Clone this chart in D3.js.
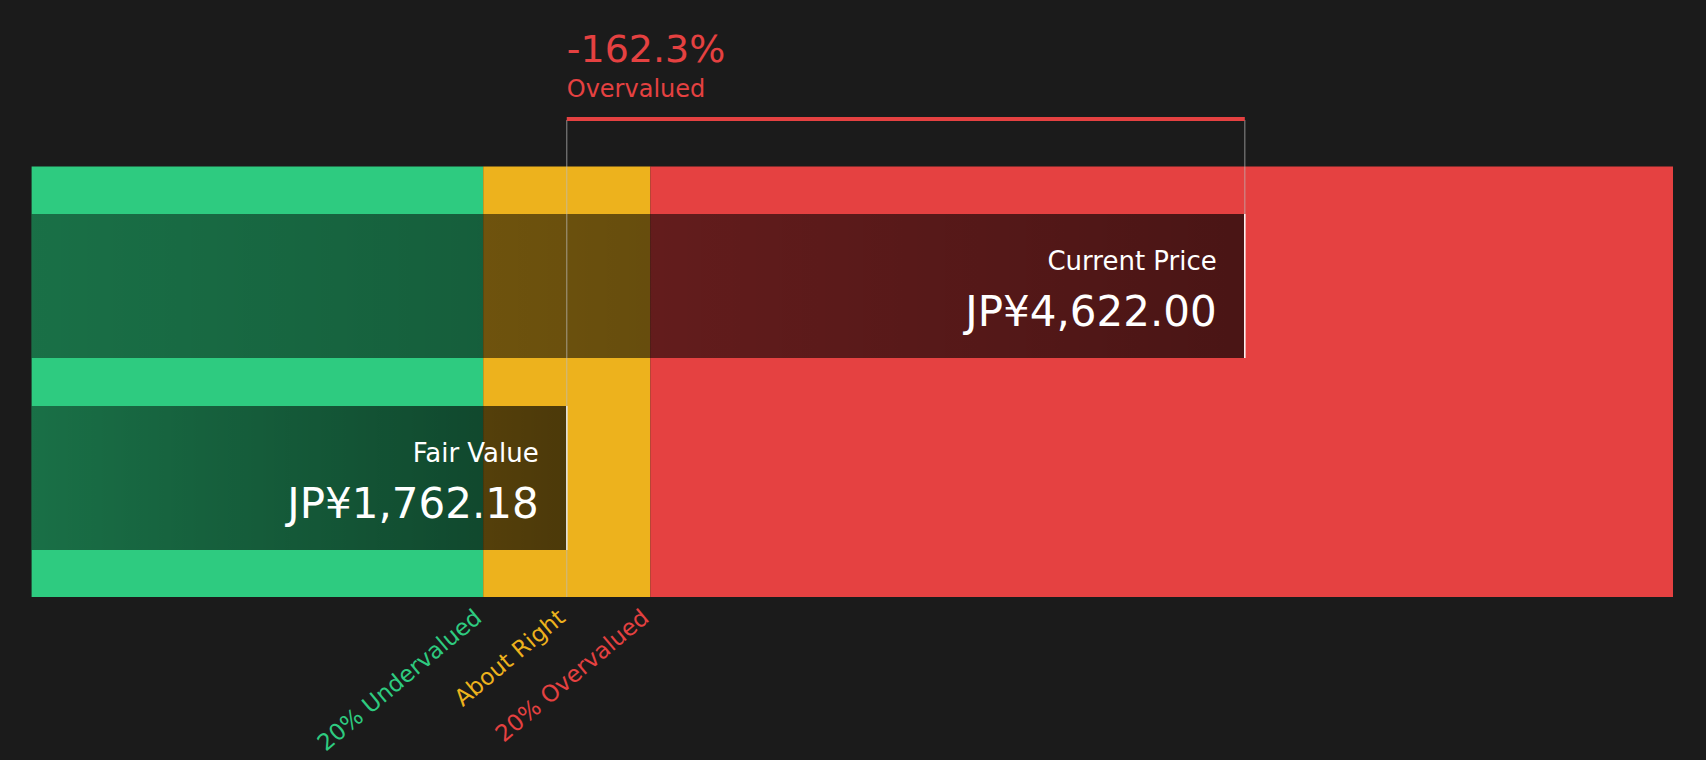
<!DOCTYPE html><html><head><meta charset="utf-8"><script src="https://d3js.org/d3.v7.min.js"></script>
<style>body{margin:0;background:#1b1b1b}</style></head><body><svg id="c" width="1706" height="760"></svg>
<script>
const zoneNames=["20% Undervalued","About Right","20% Overvalued"];
const zoneColors=["#2ecb80","#edb21d","#e54141"];
const fairValue=1762.18, currentPrice=4622.00;
const pctLabel="-162.3%", statusLabel="Overvalued";
const domainMin=-495, domainMax=6428;
(function(){
const svg=d3.select("#c"), F="DejaVu Sans, sans-serif";
const x=d3.scaleLinear().domain([domainMin,domainMax]).range([31.6,1673]);
const yTop=166.5,yBot=597;
const bounds=[domainMin,fairValue*0.8,fairValue*1.2,domainMax];
zoneColors.forEach((c,i)=>svg.append("rect").attr("x",x(bounds[i])).attr("width",x(bounds[i+1])-x(bounds[i])).attr("y",yTop).attr("height",yBot-yTop).attr("fill",c));
const g=svg.append("defs").append("linearGradient").attr("id","gr");
g.append("stop").attr("offset",0).attr("stop-color","#000").attr("stop-opacity",0.45);
g.append("stop").attr("offset",1).attr("stop-color","#000").attr("stop-opacity",0.68);
const bars=[{v:currentPrice,y:214,h:144,t:"Current Price"},{v:fairValue,y:406,h:144,t:"Fair Value"}];
bars.forEach(b=>{
 svg.append("rect").attr("x",x(domainMin)).attr("y",b.y).attr("width",x(b.v)-x(domainMin)).attr("height",b.h).attr("fill","url(#gr)");
 svg.append("line").attr("x1",x(b.v)).attr("x2",x(b.v)).attr("y1",b.y).attr("y2",b.y+b.h).attr("stroke","#fff").attr("stroke-width",1.5);
 svg.append("text").attr("x",x(b.v)-28).attr("y",b.y+56).attr("text-anchor","end").attr("fill","#fff").attr("font-family",F).attr("font-size",26).text(b.t);
 svg.append("text").attr("x",x(b.v)-28).attr("y",b.y+112).attr("text-anchor","end").attr("fill","#fff").attr("font-family",F).attr("font-size",42).text("JP¥"+d3.format(",.2f")(b.v));
});
[fairValue,currentPrice].forEach((v,i)=>svg.append("line").attr("x1",x(v)).attr("x2",x(v)).attr("y1",120).attr("y2",i?214:yBot).attr("stroke","#bbb").attr("stroke-opacity",0.6).attr("stroke-width",1.2));
svg.append("rect").attr("x",x(fairValue)).attr("y",117).attr("width",x(currentPrice)-x(fairValue)).attr("height",4).attr("fill","#e54141");
svg.append("text").attr("x",x(fairValue)).attr("y",62).attr("fill","#e54141").attr("font-family",F).attr("font-size",38).text(pctLabel);
svg.append("text").attr("x",x(fairValue)).attr("y",97).attr("fill","#e54141").attr("font-family",F).attr("font-size",24).text(statusLabel);
const labelAt=[fairValue*0.8,fairValue,fairValue*1.2];
zoneNames.forEach((n,i)=>svg.append("text").attr("transform",`translate(${x(labelAt[i])},620) rotate(-40)`).attr("text-anchor","end").attr("fill",zoneColors[i]).attr("font-family",F).attr("font-size",23).text(n));
})();
</script></body></html>
